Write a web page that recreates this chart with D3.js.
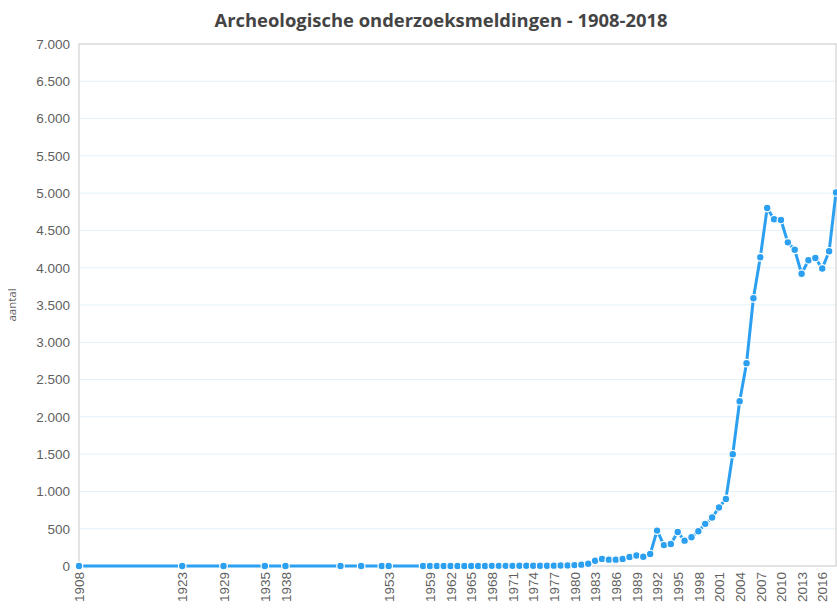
<!DOCTYPE html>
<html>
<head>
<meta charset="utf-8">
<script src="https://cdn.jsdelivr.net/npm/d3@7"></script>
<style>
  body { margin: 0; background: #fff; }
  svg { display: block; font-family: "Open Sans", "DejaVu Sans", sans-serif; }
</style>
</head>
<body>
<div id="chart"></div>
<script>
// jaren met meldingen en aantallen
const years = [1908, 1923, 1929, 1935, 1938, 1946, 1949, 1952, 1953,
  1958, 1959, 1960, 1961, 1962, 1963, 1964, 1965, 1966, 1967, 1968, 1969,
  1970, 1971, 1972, 1973, 1974, 1975, 1976, 1977, 1978, 1979, 1980, 1981,
  1982, 1983, 1984, 1985, 1986, 1987, 1988, 1989, 1990, 1991, 1992, 1993,
  1994, 1995, 1996, 1997, 1998, 1999, 2000, 2001, 2002, 2003, 2004, 2005,
  2006, 2007, 2008, 2009, 2010, 2011, 2012, 2013, 2014, 2015, 2016, 2017, 2018];
const counts = [1, 1, 1, 1, 1, 1, 1, 1, 1,
  1, 1, 1, 1, 1, 1, 1, 1, 1, 1, 2, 2,
  2, 2, 3, 3, 3, 4, 4, 5, 6, 8, 12, 18,
  30, 70, 95, 85, 85, 95, 120, 140, 125, 160, 475, 280,
  295, 455, 340, 385, 465, 565, 650, 785, 900, 1500, 2210, 2720,
  3590, 4140, 4800, 4650, 4640, 4340, 4240, 3920, 4100, 4130, 3990, 4220, 5010];
const xTickYears = [1908, 1923, 1929, 1935, 1938, 1953, 1959, 1962, 1965, 1968,
  1971, 1974, 1977, 1980, 1983, 1986, 1989, 1992, 1995, 1998, 2001, 2004,
  2007, 2010, 2013, 2016];
const yTicks = d3.range(0, 7001, 500);

const width = 837, height = 610;
const margin = { top: 44, right: 1, bottom: 44, left: 79 };
const lineColor = "#2b9ff0";

const svg = d3.select("#chart").append("svg")
  .attr("width", width)
  .attr("height", height);

const x = d3.scaleLinear()
  .domain([1908, 2018])
  .range([margin.left, width - margin.right]);

const y = d3.scaleLinear()
  .domain([0, 7000])
  .range([height - margin.bottom, margin.top]);

// rasterlijnen
svg.append("g")
  .selectAll("line")
  .data(yTicks.slice(1, -1))
  .join("line")
  .attr("x1", margin.left)
  .attr("x2", width - margin.right)
  .attr("y1", d => y(d))
  .attr("y2", d => y(d))
  .attr("stroke", "#e3f1f7")
  .attr("stroke-width", 1);

// kader rond het plotgebied
svg.append("rect")
  .attr("x", margin.left)
  .attr("y", margin.top)
  .attr("width", width - margin.right - margin.left)
  .attr("height", y(0) - margin.top)
  .attr("fill", "none")
  .attr("stroke", "#d0d0d0")
  .attr("stroke-width", 1.2);

// y-as
const fmt = d3.formatLocale({ decimal: ",", thousands: ".", grouping: [3], currency: ["€", ""] }).format(",d");
const yAxis = svg.append("g")
  .attr("transform", `translate(${margin.left},0)`)
  .call(d3.axisLeft(y).tickValues(yTicks).tickFormat(fmt).tickSize(0).tickPadding(9));
yAxis.select(".domain").remove();
yAxis.selectAll("text")
  .attr("fill", "#5f5f5f")
  .style("font-size", "13.5px");

// x-as
const xAxis = svg.append("g")
  .attr("transform", `translate(0,${y(0)})`)
  .call(d3.axisBottom(x).tickValues(xTickYears).tickFormat(d3.format("d")).tickSize(0));
xAxis.select(".domain").remove();
xAxis.selectAll("text")
  .attr("fill", "#5f5f5f")
  .style("font-size", "13.5px")
  .attr("text-anchor", "end")
  .attr("transform", "rotate(-90)")
  .attr("x", -6)
  .attr("y", 0)
  .attr("dy", "0.35em");

// aslabel
svg.append("text")
  .attr("transform", `translate(16,${(margin.top + y(0)) / 2}) rotate(-90)`)
  .attr("text-anchor", "middle")
  .attr("fill", "#5f5f5f")
  .style("font-size", "11.5px")
  .text("aantal");

// titel
svg.append("text")
  .attr("x", 441)
  .attr("y", 27)
  .attr("text-anchor", "middle")
  .attr("fill", "#444")
  .style("font-size", "18.4px")
  .style("font-weight", "bold")
  .text("Archeologische onderzoeksmeldingen - 1908-2018");

const data = years.map((yr, i) => ({ year: yr, value: counts[i] }));

svg.append("path")
  .datum(data)
  .attr("fill", "none")
  .attr("stroke", lineColor)
  .attr("stroke-width", 3)
  .attr("d", d3.line().x(d => x(d.year)).y(d => y(d.value)));

svg.append("g")
  .selectAll("circle")
  .data(data)
  .join("circle")
  .attr("cx", d => x(d.year))
  .attr("cy", d => y(d.value))
  .attr("r", 3.8)
  .attr("fill", lineColor)
  .attr("stroke", "#fff")
  .attr("stroke-width", 1.2);
</script>
</body>
</html>
